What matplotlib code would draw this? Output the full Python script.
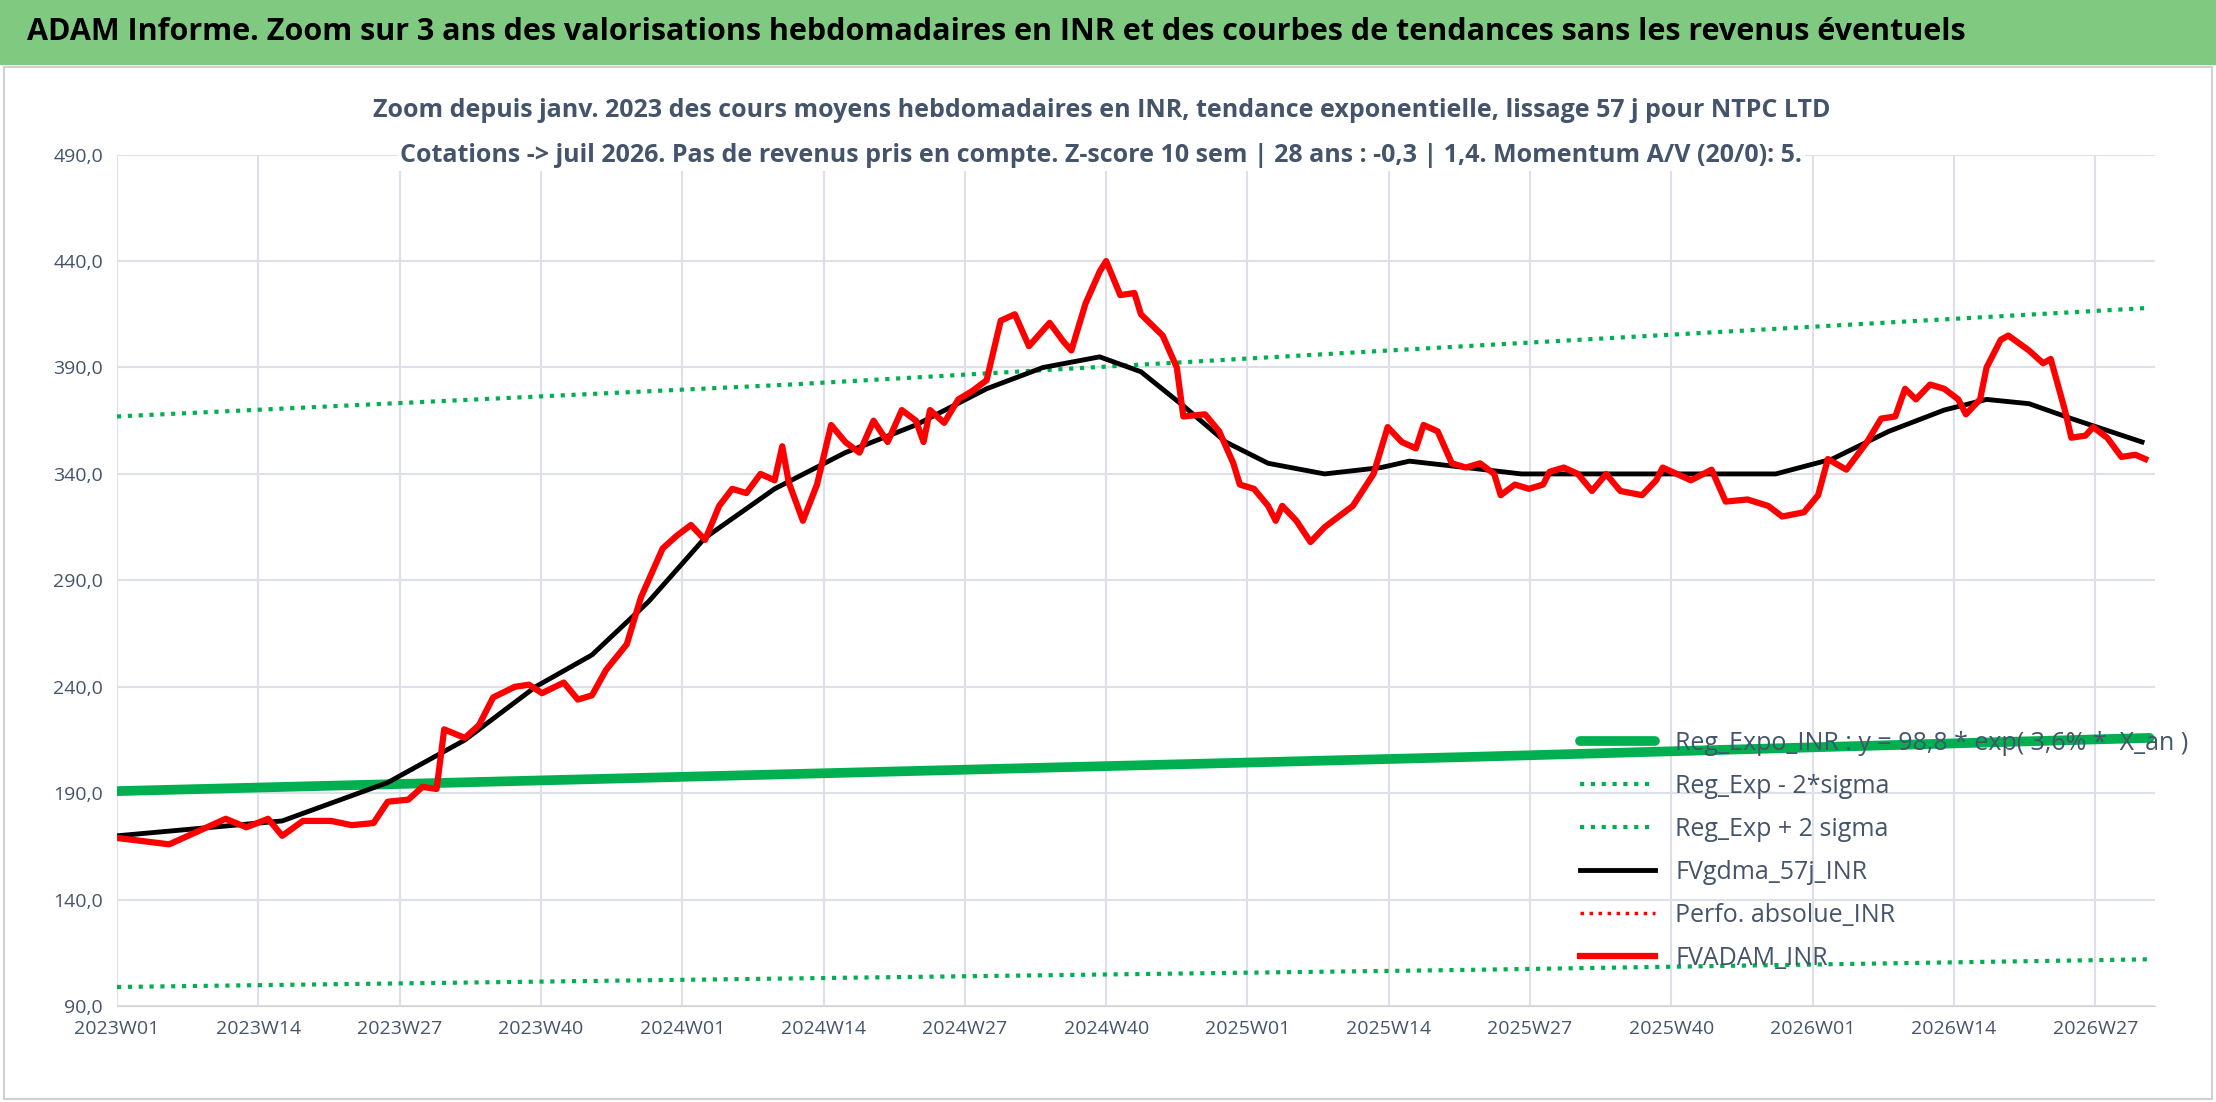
import matplotlib.pyplot as plt

plt.rcParams['font.family'] = ['Open Sans', 'DejaVu Sans']

# week labels 2023W01 .. 2026W31
weeks = [f"{y}W{w:02d}" for y in (2023, 2024, 2025) for w in range(1, 53)] + [f"2026W{w:02d}" for w in range(1, 32)]
tick_idx = list(range(0, len(weeks), 13))

# FVADAM_INR (week position, value)
red_x = [0, 4.8, 10.0, 11.9, 13.9, 15.2, 17.1, 19.7, 21.6, 23.6, 24.9, 26.8, 28.1, 29.4, 30.1, 32.0, 33.3, 34.6, 36.6, 37.9,
         39.1, 41.1, 42.4, 43.7, 45.0, 46.9, 48.2, 50.2, 51.5, 52.8, 54.1, 55.4, 56.6, 57.9, 59.2, 60.5, 61.2, 61.8, 63.1, 64.4,
         65.7, 67.0, 68.3, 69.6, 70.9, 72.2, 73.5, 74.2, 74.8, 76.1, 77.4, 78.7, 80.0, 81.3, 82.6, 83.9, 85.8, 87.1, 87.8, 89.1,
         90.4, 91.0, 92.3, 93.6, 94.2, 96.2, 97.5, 98.1, 100.1, 101.4, 102.7, 103.3, 104.6, 105.9, 106.6, 107.2, 108.5, 109.8, 111.1, 113.7,
         115.6, 116.9, 118.2, 119.5, 120.2, 121.5, 122.8, 124.1, 125.4, 126.7, 127.3, 128.6, 129.9, 131.2, 131.8, 133.1, 134.4, 135.7, 137.0, 138.3,
         140.3, 141.6, 142.2, 143.5, 144.8, 146.7, 148.0, 150.0, 151.9, 153.2, 155.2, 156.5, 157.4, 159.1, 161.0, 162.3, 163.6, 164.5, 165.5, 166.8,
         168.1, 169.4, 170.1, 171.4, 172.0, 173.3, 174.0, 175.9, 177.2, 177.9, 179.2, 179.8, 181.1, 181.8, 183.1, 184.4, 185.7, 186.6]
red_y = [169, 166, 178, 174, 178, 170, 177, 177, 175, 176, 186, 187, 193, 192, 220, 216, 222, 235, 240, 241,
         237, 242, 234, 236, 248, 260, 282, 305, 311, 316, 309, 325, 333, 331, 340, 337, 353, 336, 318, 335,
         363, 355, 350, 365, 355, 370, 365, 355, 370, 364, 375, 379, 384, 412, 415, 400, 411, 402, 398, 420,
         435, 440, 424, 425, 415, 405, 390, 367, 368, 360, 345, 335, 333, 325, 318, 325, 318, 308, 315, 325,
         340, 362, 355, 352, 363, 360, 345, 343, 345, 340, 330, 335, 333, 335, 341, 343, 340, 332, 340, 332,
         330, 337, 343, 340, 337, 342, 327, 328, 325, 320, 322, 330, 347, 342, 355, 366, 367, 380, 375, 382,
         380, 375, 368, 375, 390, 403, 405, 398, 392, 394, 370, 357, 358, 362, 357, 348, 349, 347]

# FVgdma_57j_INR
blk_x = [0, 15.2, 24.9, 32.0, 38.5, 43.7, 48.9, 54.1, 60.5, 67.0, 73.5, 80.0, 85.2, 90.4, 94.2, 98.1, 102.0, 105.9,
         111.1, 116.3, 118.9, 124.1, 129.2, 144.8, 152.6, 157.8, 163.0, 168.1, 172.0, 175.9, 179.8, 186.3]
blk_y = [170, 177, 195, 215, 240, 255, 280, 310, 333, 350, 363, 380, 390, 395, 388, 372, 355, 345,
         340, 343, 346, 343, 340, 340, 340, 347, 360, 370, 375, 373, 366, 355]

# Regression curves, read at a few weeks
reg_x = [0, 62, 124, 187]
reg_y = [191, 199, 207, 216]
up_x = [0, 62, 124, 187]
up_y = [367, 382, 400, 418]
lo_x = [0, 62, 124, 187]
lo_y = [99, 103, 107, 112]

green = '#00b050'
txt = '#44546a'
fig = plt.figure(figsize=(22.16, 11.02), dpi=100)
fig.patches.append(plt.Rectangle((0, 0.942), 1, 0.058, transform=fig.transFigure, color='#80c980', zorder=0))
fig.patches.append(plt.Rectangle((0.002, 0.003), 0.996, 0.936, transform=fig.transFigure, fill=False, ec='#d0d0d0', lw=1.5))
fig.text(0.012, 0.971, "ADAM Informe. Zoom sur 3 ans des valorisations hebdomadaires en INR et des courbes de tendances sans les revenus éventuels",
         fontsize=22, fontweight='bold', va='center', ha='left')

ax = fig.add_axes([0.0528, 0.087, 0.9197, 0.7727])
ax.plot(reg_x, reg_y, color=green, lw=7, label='Reg_Expo_INR : y = 98,8 * exp( 3,6% *  X_an )', solid_capstyle='round')
ax.plot(lo_x, lo_y, color=green, lw=3, ls=(0, (1, 1.6)), label='Reg_Exp - 2*sigma')
ax.plot(up_x, up_y, color=green, lw=3, ls=(0, (1, 1.6)), label='Reg_Exp + 2 sigma')
ax.plot(blk_x, blk_y, color='black', lw=3.5, label='FVgdma_57j_INR')
ax.plot([], [], color='red', lw=2.5, ls=(0, (1, 1.6)), label='Perfo. absolue_INR')
ax.plot(red_x, red_y, color='red', lw=4.5, label='FVADAM_INR')

ax.set_xlim(0, 187.5)
ax.set_ylim(90, 490)
ax.set_yticks(range(90, 491, 50))
ax.set_yticklabels([f"{v},0" for v in range(90, 491, 50)])
ax.set_xticks(tick_idx)
ax.set_xticklabels([weeks[i] for i in tick_idx])
ax.grid(True, color='#dde0e8', lw=1.5)
ax.set_axisbelow(True)
for s in ('top', 'right', 'left'):
    ax.spines[s].set_visible(False)
ax.spines['bottom'].set_color('#d0d0d0')
ax.tick_params(length=0, labelsize=14, colors=txt, pad=10)

ax.legend(loc='lower left', bbox_to_anchor=(0.713, 0.03), frameon=False, fontsize=18, handlelength=3,
          labelcolor=txt, labelspacing=0.72, borderaxespad=0)

fig.text(0.497, 0.900, "Zoom depuis janv. 2023 des cours moyens hebdomadaires en INR, tendance exponentielle, lissage 57 j pour NTPC LTD",
         ha='center', va='center', fontsize=18, color=txt, fontweight='bold')
fig.text(0.497, 0.859, "Cotations -> juil 2026. Pas de revenus pris en compte. Z-score 10 sem | 28 ans : -0,3 | 1,4. Momentum A/V (20/0): 5.",
         ha='center', va='center', fontsize=18, color=txt, fontweight='bold',
         bbox=dict(fc='white', ec='none', pad=2))
fig.savefig('out.png', dpi=100)
